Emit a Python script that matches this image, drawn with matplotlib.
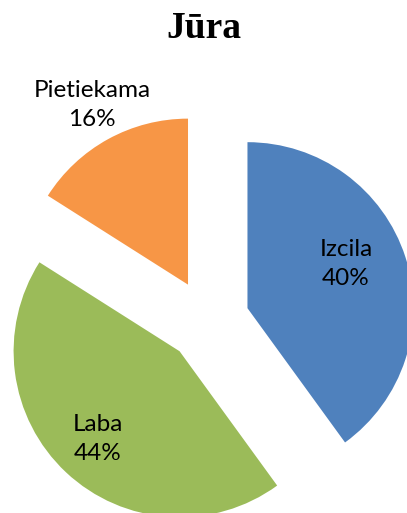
import matplotlib.pyplot as plt

categories = ['Izcila', 'Laba', 'Pietiekama']
values = [40, 44, 16]
colors = ['#4F81BD', '#9BBB59', '#F79646']
explode = [0.25, 0.25, 0.25]

W, H = 407, 513
R = 166.0           # pie radius in pixels
CX, CY = 208, 321   # pie centre in pixels (from top-left)

fig = plt.figure(figsize=(W / 100, H / 100), dpi=100)
ax = fig.add_axes([0, 0, 1, 1])
ax.pie(values, colors=colors, explode=explode, startangle=90,
       counterclock=False, wedgeprops=dict(linewidth=0))
ax.set_aspect('auto')
ax.set_xlim(-CX / R, (W - CX) / R)
ax.set_ylim(-(H - CY) / R, CY / R)
ax.axis('off')

fig.text(0.5, 1 - 28 / H, 'Jūra', ha='center', va='center',
         fontsize=27, fontweight='bold', family='Liberation Serif')

# label positions (pixels) for each slice
label_pos = {'Izcila': (346, 264), 'Laba': (98, 439), 'Pietiekama': (92, 105)}
for cat, val in zip(categories, values):
    x, y = label_pos[cat]
    fig.text(x / W, 1 - y / H, f'{cat}\n{val}%', ha='center', va='center',
             fontsize=17.5, family='Lato', linespacing=1.5)

fig.savefig('out.png', dpi=100)
